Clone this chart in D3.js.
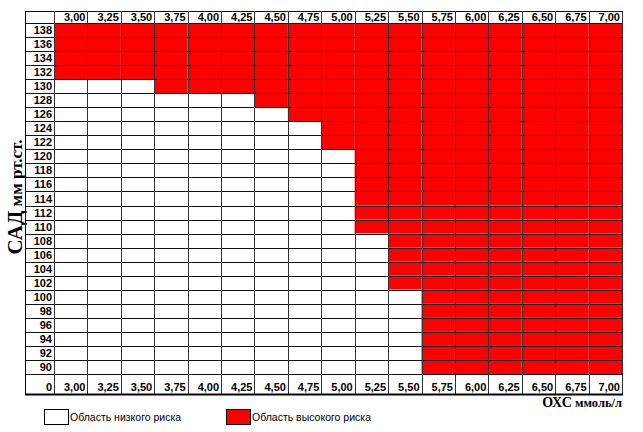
<!DOCTYPE html>
<html><head><meta charset="utf-8">
<script src="https://cdn.jsdelivr.net/npm/d3@7/dist/d3.min.js"></script>
<style>body{margin:0;background:#fff}svg{display:block}</style>
</head><body>
<svg id="c" width="643" height="432"></svg>
<script>
// Data
const cholesterol = ["3,00","3,25","3,50","3,75","4,00","4,25","4,50","4,75","5,00","5,25","5,50","5,75","6,00","6,25","6,50","6,75","7,00"];
const sbp = [138,136,134,132,130,128,126,124,122,120,118,116,114,112,110,108,106,104,102,100,98,96,94,92,90];
// minimal SBP (mm Hg) that falls into the high-risk area for each cholesterol column
const highRiskFrom = [132,132,132,130,130,130,128,126,122,110,102,90,90,90,90,90,90];
const legendLabels = ["Область низкого риска","Область высокого риска"];

const svg = d3.select("#c");
const left = 25, labelRight = 54, right = 622;
const headTop = 11, gridTop = 23, gridBottom = 374, bottomRowEnd = 394;

const x = d3.scaleBand().domain(cholesterol).range([labelRight, right]);
const y = d3.scaleBand().domain(sbp).range([gridTop, gridBottom]);
const thr = new Map(cholesterol.map((c,i)=>[c, highRiskFrom[i]]));

const cells = [];
cholesterol.forEach(c => sbp.forEach(s => cells.push({c, s, high: s >= thr.get(c)})));

const g = svg.append("g");
g.selectAll("rect.cell").data(cells).join("rect")
  .attr("class","cell")
  .attr("x", d => x(d.c)).attr("y", d => y(d.s))
  .attr("width", x.bandwidth()).attr("height", y.bandwidth())
  .attr("fill", d => d.high ? "#ff0000" : "#ffffff");

// grid lines
const hl = g.append("g").attr("stroke","#111").attr("stroke-width",1);
[headTop, ...sbp.map(s=>y(s)), gridBottom].forEach(v => {
  hl.append("line").attr("x1", left).attr("x2", right).attr("y1", Math.round(v)+0.5).attr("y2", Math.round(v)+0.5);
});
const vl = g.append("g").attr("stroke","#333").attr("stroke-width",1);
[labelRight, ...cholesterol.map(c=>x(c)+x.bandwidth())].forEach(v => {
  vl.append("line").attr("x1", Math.round(v)+0.5).attr("x2", Math.round(v)+0.5).attr("y1", headTop).attr("y2", bottomRowEnd);
});
// outer border
g.append("line").attr("x1", left+0.5).attr("x2", left+0.5).attr("y1", headTop).attr("y2", bottomRowEnd).attr("stroke","#000");
g.append("line").attr("x1", left).attr("x2", right+1).attr("y1", bottomRowEnd+0.5).attr("y2", bottomRowEnd+0.5).attr("stroke","#000").attr("stroke-width",2);

const font = "'Liberation Sans', Arial, sans-serif";
// header labels
const txt = svg.append("g").attr("font-family", font).attr("font-weight","bold").attr("font-size", 11).attr("fill","#000").attr("text-anchor","end");
txt.selectAll("text.h").data(cholesterol).join("text").attr("class","h")
  .attr("x", d => x(d)+x.bandwidth()-2).attr("y", gridTop-2).text(d=>d);
txt.selectAll("text.b").data(cholesterol).join("text").attr("class","b")
  .attr("x", d => x(d)+x.bandwidth()-2).attr("y", bottomRowEnd-3).text(d=>d);
txt.selectAll("text.r").data(sbp).join("text").attr("class","r")
  .attr("x", labelRight-2).attr("y", d => y(d)+y.bandwidth()/2+4).text(d=>d);
txt.append("text").attr("x", labelRight-2).attr("y", bottomRowEnd-3).text("0");

// axis titles
const serif = "'Liberation Serif', 'Times New Roman', serif";
const yt = svg.append("text").attr("font-family", serif).attr("font-weight","bold")
  .attr("transform","translate(22,197) rotate(-90)").attr("text-anchor","middle");
yt.append("tspan").attr("font-size",21).text("САД");
yt.append("tspan").attr("font-size",17).text(" мм рт.ст.");

const xt = svg.append("text").attr("font-family", serif).attr("font-weight","bold")
  .attr("x", right).attr("y", 407).attr("text-anchor","end");
xt.append("tspan").attr("font-size",14).text("ОХС");
xt.append("tspan").attr("font-size",12.5).text(" ммоль/л");

// legend
const lg = [{x:44, fill:"#ffffff", label:legendLabels[0]},{x:226, fill:"#ff0000", label:legendLabels[1]}];
const leg = svg.append("g");
leg.selectAll("rect").data(lg).join("rect")
  .attr("x", d=>d.x+0.5).attr("y", 409.5).attr("width", 24).attr("height", 15)
  .attr("fill", d=>d.fill).attr("stroke","#000").attr("stroke-width",1);
leg.selectAll("text").data(lg).join("text")
  .attr("x", d=>d.x+26).attr("y", 421).attr("font-family", font).attr("font-size", 10.5)
  .attr("fill","#000").text(d=>d.label);
</script>
</body></html>
